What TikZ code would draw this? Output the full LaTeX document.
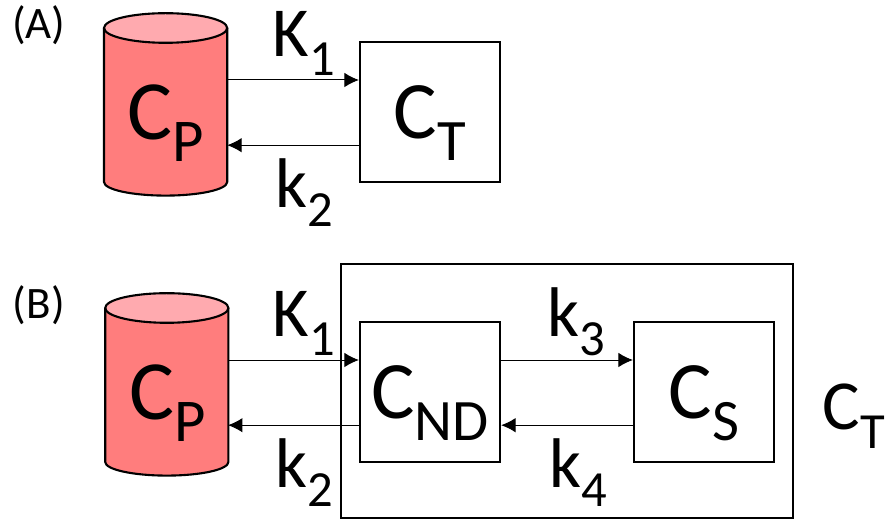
\documentclass[tikz,border=0pt]{standalone}
\usepackage{fontspec}
\setmainfont{Carlito}
\usetikzlibrary{arrows.meta}
\definecolor{cylfill}{RGB}{255,125,125}
\definecolor{cyltop}{RGB}{255,170,175}
\newcommand{\subdown}[1]{\raisebox{-0.26em}{\fontsize{0.72em}{0.72em}\selectfont #1}}
\tikzset{
    compbox/.style={draw,line width=1.6pt,fill=white,minimum width=3.5cm,minimum height=3.5cm,inner sep=0pt,text height=1.6cm,text depth=0.25cm,font=\fontsize{58}{58}\selectfont},
    cyllabel/.style={inner sep=0pt,text height=1.6cm,text depth=0.25cm,font=\fontsize{60}{60}\selectfont},
    flow/.style={-{Latex[length=3.6mm,width=3.6mm]},line width=0.7pt},
    ratelabel/.style={font=\fontsize{50}{50}\selectfont,inner sep=0pt,text height=1.3cm,text depth=0.5cm},
    panellabel/.style={font=\fontsize{32}{32}\selectfont,inner sep=0pt},
}
\newcommand{\drawcyl}[3]{
    \fill[cylfill] (#1-1.54,#2) -- (#1-1.54,#3) arc[start angle=180,end angle=360,x radius=1.54,y radius=0.34] -- (#1+1.54,#2) -- cycle;
    \fill[cyltop] (#1,#2) ellipse[x radius=1.54,y radius=0.37];
    \draw[line width=1.5pt] (#1,#2) ellipse[x radius=1.54,y radius=0.37];
    \draw[line width=1.5pt] (#1-1.54,#2) -- (#1-1.54,#3) arc[start angle=180,end angle=360,x radius=1.54,y radius=0.34] -- (#1+1.54,#2);
}
\begin{document}
\begin{tikzpicture}
    \useasboundingbox (0,0) rectangle (22.125,13.05);
    \node[panellabel] (lblA) at (0.97,12.42) {(A)};
    \node[panellabel] (lblB) at (0.97,5.42) {(B)};
    % top row
    \drawcyl{4.14}{12.35}{8.5}
    \node[cyllabel] (cpA) at (4.15,10.225) {C\subdown{P}};
    \node[compbox] (ctA) at (10.75,10.25) {C\subdown{T}};
    \coordinate (cpAu) at (5.68,11.05);
    \coordinate (cpAl) at (5.68,9.42);
    \draw[flow] (cpAu) -- (cpAu-|ctA.west);
    \draw[flow] (cpAl-|ctA.west) -- (cpAl);
    \node[ratelabel] (k1A) at (7.6,12.025) {K\subdown{1}};
    \node[ratelabel] (k2A) at (7.6,8.25) {k\subdown{2}};
    % bottom row
    \node[draw,line width=1.6pt,minimum width=11.3cm,minimum height=6.35cm,inner sep=0pt] (outer) at (14.18,3.27) {};
    \drawcyl{4.17}{5.35}{1.5}
    \node[cyllabel] (cpB) at (4.18,3.225) {C\subdown{P}};
    \node[compbox] (cnd) at (10.75,3.25) {C\subdown{ND}};
    \node[compbox] (cs) at (17.6,3.25) {C\subdown{S}};
    \coordinate (cpBu) at (5.7,4.05);
    \coordinate (cpBl) at (5.7,2.42);
    \draw[flow] (cpBu) -- (cpBu-|cnd.west);
    \draw[flow] (cpBl-|cnd.west) -- (cpBl);
    \draw[flow] (cnd.east|-cpBu) -- (cs.west|-cpBu);
    \draw[flow] (cs.west|-cpBl) -- (cnd.east|-cpBl);
    \node[ratelabel] (k1B) at (7.6,5.025) {K\subdown{1}};
    \node[ratelabel] (k2B) at (7.6,1.25) {k\subdown{2}};
    \node[ratelabel] (k3) at (14.4,5.025) {k\subdown{3}};
    \node[ratelabel] (k4) at (14.45,1.25) {k\subdown{4}};
    \node[ratelabel] (ctB) at (21.35,2.7) {C\subdown{T}};
\end{tikzpicture}
\end{document}
